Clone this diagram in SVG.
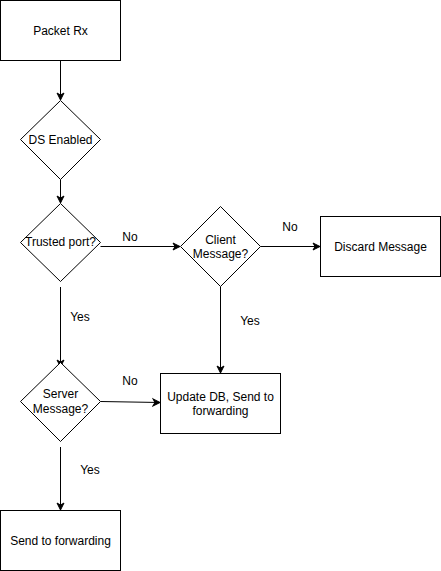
<svg xmlns="http://www.w3.org/2000/svg" width="441" height="571" viewBox="0 0 441 571">
<defs>
<marker id="arr" markerWidth="10" markerHeight="10" refX="8" refY="5" orient="auto" markerUnits="userSpaceOnUse">
<path d="M1,1.5 L8,5 L1,8.5 L3,5 Z" fill="#000" stroke="#000" stroke-width="1"/>
</marker>
<style>
.n{fill:#fff;stroke:#000;stroke-width:1}
.t{font-family:"Liberation Sans",Arial,sans-serif;font-size:12px;fill:#000;text-anchor:middle}
.c{fill:none;stroke:#000;stroke-width:1;marker-end:url(#arr)}
.l{font-family:"Liberation Sans",Arial,sans-serif;font-size:12px;fill:#000;text-anchor:middle}
</style>
</defs>
<rect width="441" height="571" fill="#fff"/>
<g id="connectors">
<path class="c" d="M60.5,60.5 V100"/>
<path class="c" d="M60.5,179.5 V203"/>
<path class="c" d="M100.5,246.5 H180"/>
<path class="c" d="M260.5,246.5 H320"/>
<path class="c" d="M60.5,287 V367"/>
<path class="c" d="M220.5,286.5 V373"/>
<path class="c" d="M100.5,401.5 L160,402.5"/>
<path class="c" d="M60.5,447 V510"/>
<text class="l" x="130" y="241">No</text>
<text class="l" x="290" y="231">No</text>
<text class="l" x="80" y="321">Yes</text>
<text class="l" x="250" y="325">Yes</text>
<text class="l" x="130" y="385">No</text>
<text class="l" x="90" y="474">Yes</text>
</g>
<g id="packet-rx">
<rect class="n" x="0.5" y="0.5" width="120" height="60"/>
<text class="t" x="60.5" y="35">Packet Rx</text>
</g>
<g id="ds-enabled">
<path class="n" d="M60.5,100.5 L100.5,139.5 L60.5,179.5 L20.5,139.5 Z"/>
<text class="t" x="60.5" y="144">DS Enabled</text>
</g>
<g id="trusted-port">
<path class="n" d="M60.5,203.5 L100.5,242.5 L60.5,281.5 L20.5,242.5 Z"/>
<text class="t" x="60.5" y="246">Trusted port?</text>
</g>
<g id="client-message">
<path class="n" d="M220.5,206.5 L260.5,246.5 L220.5,286.5 L180.5,246.5 Z"/>
<text class="t" x="220.5" y="244">Client</text>
<text class="t" x="220.5" y="258">Message?</text>
</g>
<g id="discard-message">
<rect class="n" x="320.5" y="216.5" width="120" height="60"/>
<text class="t" x="380.5" y="251">Discard Message</text>
</g>
<g id="server-message">
<path class="n" d="M60.5,362.5 L100.5,401.5 L60.5,441.5 L20.5,401.5 Z"/>
<text class="t" x="60.5" y="398">Server</text>
<text class="t" x="60.5" y="413">Message?</text>
</g>
<g id="update-db">
<rect class="n" x="160.5" y="373.5" width="120" height="60"/>
<text class="t" x="220.5" y="401">Update DB, Send to</text>
<text class="t" x="220.5" y="415">forwarding</text>
</g>
<g id="send-forwarding">
<rect class="n" x="0.5" y="510.5" width="120" height="60"/>
<text class="t" x="60.5" y="545">Send to forwarding</text>
</g>
</svg>
